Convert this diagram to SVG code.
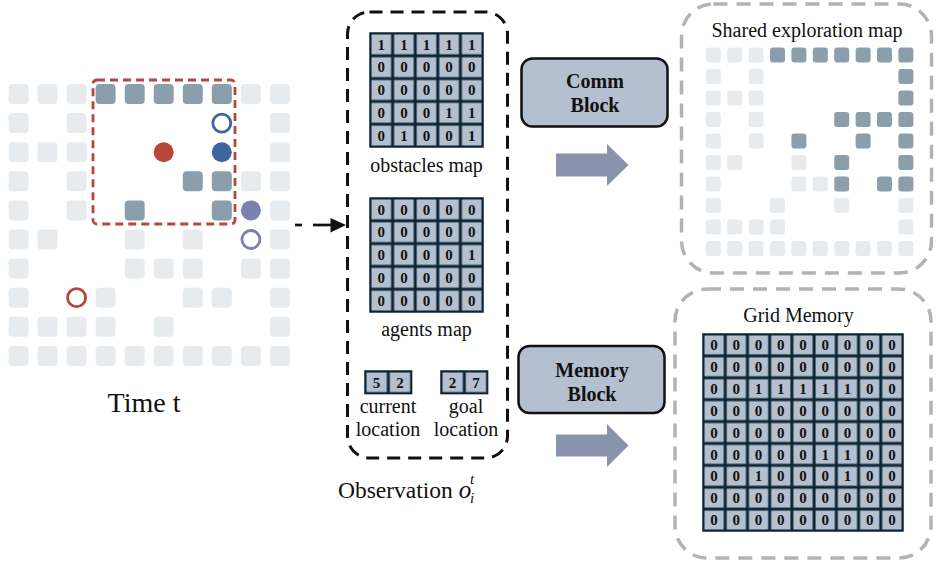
<svg xmlns="http://www.w3.org/2000/svg" width="936" height="563" viewBox="0 0 936 563">
<style>
.L{fill:#e7ebee}
.D{fill:#8b9eab}
.sq{rx:4px}
.sm{rx:3px}
.lbl{font-family:"Liberation Serif","Times New Roman",serif;fill:#111;text-anchor:middle}
.dig{font-family:"Liberation Serif","Times New Roman",serif;font-weight:bold;font-size:15px;fill:#111;text-anchor:middle}
.blk{fill:#b4bfcf;stroke:#111;stroke-width:2.5}
.bt{font-family:"Liberation Serif","Times New Roman",serif;font-weight:bold;font-size:20px;fill:#111;text-anchor:middle}
.gbox{fill:none;stroke:#b3b3b3;stroke-width:3.5;stroke-dasharray:14 9}
.fat{fill:#8993ab}
</style>
<defs>
<pattern id="cell5" patternUnits="userSpaceOnUse" x="370" y="33" width="22.6" height="22.8">
<rect width="22.6" height="22.8" fill="#0e2535"/>
<rect x="1.5" y="1.5" width="19.6" height="19.8" fill="#b4bfcf"/>
</pattern>
<pattern id="cell5b" patternUnits="userSpaceOnUse" x="370" y="198" width="22.6" height="22.8">
<rect width="22.6" height="22.8" fill="#0e2535"/>
<rect x="1.5" y="1.5" width="19.6" height="19.8" fill="#b4bfcf"/>
</pattern>
<pattern id="cellL1" patternUnits="userSpaceOnUse" x="365" y="371" width="23.3" height="22.6">
<rect width="23.3" height="22.6" fill="#0e2535"/>
<rect x="1.5" y="1.5" width="20.3" height="19.6" fill="#b4bfcf"/>
</pattern>
<pattern id="cellL2" patternUnits="userSpaceOnUse" x="441" y="371" width="23.3" height="22.6">
<rect width="23.3" height="22.6" fill="#0e2535"/>
<rect x="1.5" y="1.5" width="20.3" height="19.6" fill="#b4bfcf"/>
</pattern>
<pattern id="cell9" patternUnits="userSpaceOnUse" x="703" y="334" width="22.222" height="21.889">
<rect width="22.222" height="21.889" fill="#0e2535"/>
<rect x="1.5" y="1.5" width="19.22" height="18.89" fill="#b4bfcf"/>
</pattern>
</defs>
<rect width="936" height="563" fill="#fff"/>

<g id="environment">
<g class="L">
<rect class="sq" x="8.5" y="84" width="20" height="20"/><rect class="sq" x="37.5" y="84" width="20" height="20"/><rect class="sq" x="66.6" y="84" width="20" height="20"/><rect class="sq" x="240.9" y="84" width="20" height="20"/><rect class="sq" x="270" y="84" width="20" height="20"/>
<rect class="sq" x="8.5" y="113.1" width="20" height="20"/><rect class="sq" x="66.6" y="113.1" width="20" height="20"/><rect class="sq" x="270" y="113.1" width="20" height="20"/>
<rect class="sq" x="8.5" y="142.2" width="20" height="20"/><rect class="sq" x="37.5" y="142.2" width="20" height="20"/><rect class="sq" x="66.6" y="142.2" width="20" height="20"/><rect class="sq" x="270" y="142.2" width="20" height="20"/>
<rect class="sq" x="8.5" y="171.3" width="20" height="20"/><rect class="sq" x="66.6" y="171.3" width="20" height="20"/><rect class="sq" x="240.9" y="171.3" width="20" height="20"/><rect class="sq" x="270" y="171.3" width="20" height="20"/>
<rect class="sq" x="8.5" y="200.4" width="20" height="20"/><rect class="sq" x="66.6" y="200.4" width="20" height="20"/><rect class="sq" x="270" y="200.4" width="20" height="20"/>
<rect class="sq" x="8.5" y="229.5" width="20" height="20"/><rect class="sq" x="37.5" y="229.5" width="20" height="20"/><rect class="sq" x="124.7" y="229.5" width="20" height="20"/><rect class="sq" x="182.8" y="229.5" width="20" height="20"/><rect class="sq" x="270" y="229.5" width="20" height="20"/>
<rect class="sq" x="8.5" y="258.6" width="20" height="20"/><rect class="sq" x="124.7" y="258.6" width="20" height="20"/><rect class="sq" x="153.7" y="258.6" width="20" height="20"/><rect class="sq" x="182.8" y="258.6" width="20" height="20"/><rect class="sq" x="240.9" y="258.6" width="20" height="20"/><rect class="sq" x="270" y="258.6" width="20" height="20"/>
<rect class="sq" x="8.5" y="287.7" width="20" height="20"/><rect class="sq" x="95.6" y="287.7" width="20" height="20"/><rect class="sq" x="182.8" y="287.7" width="20" height="20"/><rect class="sq" x="211.8" y="287.7" width="20" height="20"/><rect class="sq" x="270" y="287.7" width="20" height="20"/>
<rect class="sq" x="8.5" y="316.8" width="20" height="20"/><rect class="sq" x="37.5" y="316.8" width="20" height="20"/><rect class="sq" x="66.6" y="316.8" width="20" height="20"/><rect class="sq" x="95.6" y="316.8" width="20" height="20"/><rect class="sq" x="153.7" y="316.8" width="20" height="20"/><rect class="sq" x="270" y="316.8" width="20" height="20"/>
<rect class="sq" x="8.5" y="345.9" width="20" height="20"/><rect class="sq" x="37.5" y="345.9" width="20" height="20"/><rect class="sq" x="66.6" y="345.9" width="20" height="20"/><rect class="sq" x="95.6" y="345.9" width="20" height="20"/><rect class="sq" x="124.7" y="345.9" width="20" height="20"/><rect class="sq" x="153.7" y="345.9" width="20" height="20"/><rect class="sq" x="182.8" y="345.9" width="20" height="20"/><rect class="sq" x="211.8" y="345.9" width="20" height="20"/><rect class="sq" x="240.9" y="345.9" width="20" height="20"/><rect class="sq" x="270" y="345.9" width="20" height="20"/>
</g>
<g class="D">
<rect class="sq" x="95.6" y="84" width="20" height="20"/><rect class="sq" x="124.7" y="84" width="20" height="20"/><rect class="sq" x="153.7" y="84" width="20" height="20"/><rect class="sq" x="182.8" y="84" width="20" height="20"/><rect class="sq" x="211.8" y="84" width="20" height="20"/>
<rect class="sq" x="182.8" y="171.3" width="20" height="20"/><rect class="sq" x="211.8" y="171.3" width="20" height="20"/>
<rect class="sq" x="124.7" y="200.4" width="20" height="20"/><rect class="sq" x="211.8" y="200.4" width="20" height="20"/>
</g>
<rect x="93" y="80" width="142" height="144" rx="4" fill="none" stroke="#b5483a" stroke-width="2.8" stroke-dasharray="8 5"/>
<circle cx="221.8" cy="123.1" r="9" fill="#fff" stroke="#3e65a0" stroke-width="2.8"/>
<circle cx="163.7" cy="152.2" r="10" fill="#b5483a"/>
<circle cx="221.8" cy="152.2" r="10" fill="#3e65a0"/>
<circle cx="250.9" cy="210.4" r="10" fill="#7a80b0"/>
<circle cx="250.9" cy="239.5" r="9" fill="#fff" stroke="#7a80b0" stroke-width="2.8"/>
<circle cx="76.6" cy="297.7" r="9" fill="#fff" stroke="#b5483a" stroke-width="2.8"/>
<text class="lbl" x="144" y="412" font-size="28">Time t</text>
</g>

<g id="observation">
<rect x="347.5" y="12" width="160" height="446" rx="22" fill="none" stroke="#111" stroke-width="3" stroke-dasharray="13 8"/>
<g id="obstacles-map">
<rect x="370" y="33" width="113" height="114" fill="url(#cell5)" stroke="#0e2535" stroke-width="1.5"/>
<text class="dig" x="381.3 403.9 426.5 449.1 471.7" y="49.6">11111</text>
<text class="dig" x="381.3 403.9 426.5 449.1 471.7" y="72.4">00000</text>
<text class="dig" x="381.3 403.9 426.5 449.1 471.7" y="95.2">00000</text>
<text class="dig" x="381.3 403.9 426.5 449.1 471.7" y="118">00011</text>
<text class="dig" x="381.3 403.9 426.5 449.1 471.7" y="140.8">01001</text>
<text class="lbl" x="426.5" y="172" font-size="20">obstacles map</text>
</g>
<g id="agents-map">
<rect x="370" y="198" width="113" height="114" fill="url(#cell5b)" stroke="#0e2535" stroke-width="1.5"/>
<text class="dig" x="381.3 403.9 426.5 449.1 471.7" y="214.6">00000</text>
<text class="dig" x="381.3 403.9 426.5 449.1 471.7" y="237.4">00000</text>
<text class="dig" x="381.3 403.9 426.5 449.1 471.7" y="260.2">00001</text>
<text class="dig" x="381.3 403.9 426.5 449.1 471.7" y="283">00000</text>
<text class="dig" x="381.3 403.9 426.5 449.1 471.7" y="305.8">00000</text>
<text class="lbl" x="426.5" y="336" font-size="20">agents map</text>
</g>
<g id="current-location">
<rect x="365" y="371" width="46.6" height="22.6" fill="url(#cellL1)" stroke="#0e2535" stroke-width="1.5"/>
<text class="dig" x="376.6 399.9" y="387.5">52</text>
<text class="lbl" x="388" y="413" font-size="20">current</text>
<text class="lbl" x="388" y="436" font-size="20">location</text>
</g>
<g id="goal-location">
<rect x="441" y="371" width="46.6" height="22.6" fill="url(#cellL2)" stroke="#0e2535" stroke-width="1.5"/>
<text class="dig" x="452.6 475.9" y="387.5">27</text>
<text class="lbl" x="466" y="413" font-size="20">goal</text>
<text class="lbl" x="466" y="436" font-size="20">location</text>
</g>
<text x="338" y="498" font-family="'Liberation Serif','Times New Roman',serif" font-size="23.5" fill="#111">Observation <tspan font-style="italic" font-size="25">o</tspan></text>
<text x="470" y="484" font-family="'Liberation Serif','Times New Roman',serif" font-style="italic" font-size="15" fill="#111">t</text>
<text x="470" y="503" font-family="'Liberation Serif','Times New Roman',serif" font-style="italic" font-size="15" fill="#111">i</text>
</g>

<g id="comm-block">
<rect class="blk" x="521.5" y="58.5" width="146" height="68" rx="11"/>
<text class="bt" x="595" y="88">Comm</text>
<text class="bt" x="595" y="112">Block</text>
</g>

<g id="memory-block">
<rect class="blk" x="518.5" y="346" width="146" height="67" rx="11"/>
<text class="bt" x="592" y="376.5">Memory</text>
<text class="bt" x="592" y="400.5">Block</text>
</g>

<g id="shared-map">
<rect class="gbox" x="681.5" y="4" width="250" height="269" rx="32"/>
<text class="lbl" x="807" y="37" font-size="20">Shared exploration map</text>
<g class="L">
<rect class="sm" x="705.8" y="47.5" width="15" height="15"/><rect class="sm" x="727.2" y="47.5" width="15" height="15"/><rect class="sm" x="748.6" y="47.5" width="15" height="15"/>
<rect class="sm" x="705.8" y="69" width="15" height="15"/><rect class="sm" x="748.6" y="69" width="15" height="15"/>
<rect class="sm" x="705.8" y="90.5" width="15" height="15"/><rect class="sm" x="727.2" y="90.5" width="15" height="15"/><rect class="sm" x="748.6" y="90.5" width="15" height="15"/>
<rect class="sm" x="705.8" y="112" width="15" height="15"/><rect class="sm" x="748.6" y="112" width="15" height="15"/>
<rect class="sm" x="705.8" y="133.5" width="15" height="15"/><rect class="sm" x="748.6" y="133.5" width="15" height="15"/>
<rect class="sm" x="705.8" y="155" width="15" height="15"/><rect class="sm" x="727.2" y="155" width="15" height="15"/><rect class="sm" x="791.4" y="155" width="15" height="15"/>
<rect class="sm" x="705.8" y="176.5" width="15" height="15"/><rect class="sm" x="791.4" y="176.5" width="15" height="15"/><rect class="sm" x="812.8" y="176.5" width="15" height="15"/>
<rect class="sm" x="705.8" y="198" width="15" height="15"/><rect class="sm" x="770" y="198" width="15" height="15"/><rect class="sm" x="834.2" y="198" width="15" height="15"/><rect class="sm" x="898.4" y="198" width="15" height="15"/>
<rect class="sm" x="705.8" y="219.5" width="15" height="15"/><rect class="sm" x="727.2" y="219.5" width="15" height="15"/><rect class="sm" x="748.6" y="219.5" width="15" height="15"/><rect class="sm" x="770" y="219.5" width="15" height="15"/><rect class="sm" x="898.4" y="219.5" width="15" height="15"/>
<rect class="sm" x="705.8" y="241" width="15" height="15"/><rect class="sm" x="727.2" y="241" width="15" height="15"/><rect class="sm" x="748.6" y="241" width="15" height="15"/><rect class="sm" x="770" y="241" width="15" height="15"/><rect class="sm" x="791.4" y="241" width="15" height="15"/><rect class="sm" x="812.8" y="241" width="15" height="15"/><rect class="sm" x="834.2" y="241" width="15" height="15"/><rect class="sm" x="855.6" y="241" width="15" height="15"/><rect class="sm" x="877" y="241" width="15" height="15"/><rect class="sm" x="898.4" y="241" width="15" height="15"/>
</g>
<g class="D">
<rect class="sm" x="770" y="47.5" width="15" height="15"/><rect class="sm" x="791.4" y="47.5" width="15" height="15"/><rect class="sm" x="812.8" y="47.5" width="15" height="15"/><rect class="sm" x="834.2" y="47.5" width="15" height="15"/><rect class="sm" x="855.6" y="47.5" width="15" height="15"/><rect class="sm" x="877" y="47.5" width="15" height="15"/><rect class="sm" x="898.4" y="47.5" width="15" height="15"/>
<rect class="sm" x="898.4" y="69" width="15" height="15"/>
<rect class="sm" x="898.4" y="90.5" width="15" height="15"/>
<rect class="sm" x="834.2" y="112" width="15" height="15"/><rect class="sm" x="855.6" y="112" width="15" height="15"/><rect class="sm" x="877" y="112" width="15" height="15"/><rect class="sm" x="898.4" y="112" width="15" height="15"/>
<rect class="sm" x="791.4" y="133.5" width="15" height="15"/><rect class="sm" x="855.6" y="133.5" width="15" height="15"/><rect class="sm" x="898.4" y="133.5" width="15" height="15"/>
<rect class="sm" x="834.2" y="155" width="15" height="15"/><rect class="sm" x="898.4" y="155" width="15" height="15"/>
<rect class="sm" x="834.2" y="176.5" width="15" height="15"/><rect class="sm" x="877" y="176.5" width="15" height="15"/><rect class="sm" x="898.4" y="176.5" width="15" height="15"/>
</g>
</g>

<g id="grid-memory">
<rect class="gbox" x="675" y="289" width="256" height="269" rx="32"/>
<text class="lbl" x="798.5" y="322" font-size="20">Grid Memory</text>
<rect x="703" y="334" width="200" height="197" fill="url(#cell9)" stroke="#0e2535" stroke-width="1.5"/>
<text class="dig" x="714.1 736.3 758.6 780.8 803 825.2 847.4 869.7 891.9" y="350.1">000000000</text>
<text class="dig" x="714.1 736.3 758.6 780.8 803 825.2 847.4 869.7 891.9" y="372">000000000</text>
<text class="dig" x="714.1 736.3 758.6 780.8 803 825.2 847.4 869.7 891.9" y="393.9">001111100</text>
<text class="dig" x="714.1 736.3 758.6 780.8 803 825.2 847.4 869.7 891.9" y="415.8">000000000</text>
<text class="dig" x="714.1 736.3 758.6 780.8 803 825.2 847.4 869.7 891.9" y="437.7">000000000</text>
<text class="dig" x="714.1 736.3 758.6 780.8 803 825.2 847.4 869.7 891.9" y="459.6">000001100</text>
<text class="dig" x="714.1 736.3 758.6 780.8 803 825.2 847.4 869.7 891.9" y="481.4">001000100</text>
<text class="dig" x="714.1 736.3 758.6 780.8 803 825.2 847.4 869.7 891.9" y="503.3">000000000</text>
<text class="dig" x="714.1 736.3 758.6 780.8 803 825.2 847.4 869.7 891.9" y="525.2">000000000</text>
</g>

<g id="connectors">
<line x1="295" y1="225" x2="302" y2="225" stroke="#111" stroke-width="2.7"/>
<line x1="313" y1="225" x2="333" y2="225" stroke="#111" stroke-width="2.7"/>
<polygon points="330.5,218 346,225 330.5,232.5" fill="#111"/>
<polygon class="fat" points="556,153.5 607,153.5 607,144 628.5,165 607,186 607,176.5 556,176.5"/>
<polygon class="fat" points="556,434.5 607,434.5 607,424 628.5,445.5 607,467 607,456.5 556,456.5"/>
</g>
</svg>
